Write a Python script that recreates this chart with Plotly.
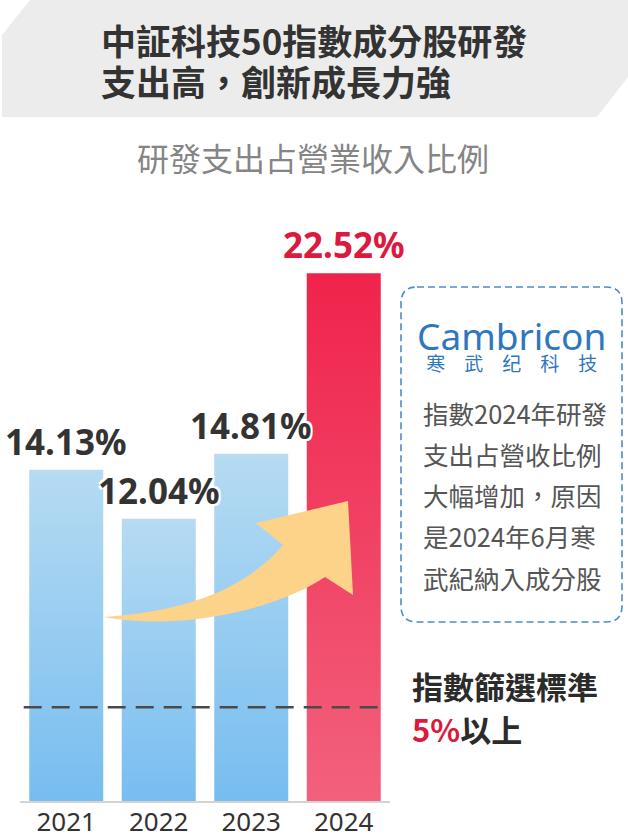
import plotly.graph_objects as go

# Data
years = ["2021", "2022", "2023", "2024"]
rd_ratio = [14.13, 12.04, 14.81, 22.52]
is_highlight = [False, False, False, True]
cutoff_label = "5%"
cutoff_drawn = 4.0  # the reference draws the cut-off guide at about this height

title_lines = ["中証科技50指數成分股研發", "支出高，創新成長力強"]
subtitle = "研發支出占營業收入比例"
note_lines = ["指數2024年研發", "支出占營收比例", "大幅增加，原因", "是2024年6月寒", "武紀納入成分股"]

# Page geometry (pixels) of the plotting area
W, H = 628, 838
L, R, T, B = 20, 390, 215, 801

CJK = "Noto Sans CJK TC"
LATIN = "Noto Sans"


def px(x, y):
    """pixel position on the page -> paper coordinates"""
    return (x - L) / (R - L), (B - y) / (B - T)


def path(points_cmds):
    out = []
    for cmd in points_cmds:
        if isinstance(cmd, str):
            out.append(cmd)
        else:
            a, b = px(*cmd)
            out.append(f"{a:.4f},{b:.4f}")
    return " ".join(out)


fig = go.Figure()
shapes = []
annotations = []

# =============================================================================
# Bars with vertical gradient
# =============================================================================
bar_w = 0.8
for i, (v, hl) in enumerate(zip(rd_ratio, is_highlight)):
    if hl:
        scale = [[0, "#f2617c"], [1, "#f0234b"]]
    else:
        scale = [[0, "#77bdf0"], [1, "#b6dbf2"]]
    fig.add_trace(go.Scatter(
        x=[i - bar_w / 2, i + bar_w / 2, i + bar_w / 2, i - bar_w / 2, i - bar_w / 2],
        y=[0, 0, v, v, 0],
        mode="lines",
        line=dict(width=0),
        fill="toself",
        fillgradient=dict(type="vertical", colorscale=scale),
        hoverinfo="skip",
        showlegend=False,
    ))

# value labels
for i, (v, hl) in enumerate(zip(rd_ratio, is_highlight)):
    annotations.append(dict(
        x=i, y=v, xref="x", yref="y",
        text=f"<b>{v:.2f}%</b>",
        showarrow=False, yanchor="bottom", yshift=3,
        font=dict(family=LATIN, size=35, color="#dc1a3e" if hl else "#333333",
                  shadow="2px 2px 0 #fff, -2px -2px 0 #fff, 2px -2px 0 #fff, -2px 2px 0 #fff"),
    ))

# =============================================================================
# Header band, title, subtitle
# =============================================================================
shapes.append(dict(
    type="path", xref="paper", yref="paper", layer="below",
    path=path(["M", (30, 0), "L", (628, 0), "L", (628, 77), "L", (597, 117),
               "L", (2, 117), "L", (2, 35), "Z"]),
    fillcolor="#ececec", line=dict(width=0),
))

# one annotation, base size sets the 41px line pitch, spans set the glyph size
ax, ay = px(99, 60)
annotations.append(dict(
    x=ax, y=ay, xref="paper", yref="paper", xanchor="left", yanchor="middle",
    align="left",
    text="<br>".join(f"<b><span style='font-size:35px'>{t}</span></b>" for t in title_lines),
    showarrow=False,
    font=dict(family=CJK, size=31.5, color="#333333"),
))

ax, ay = px(313, 157)
annotations.append(dict(
    x=ax, y=ay, xref="paper", yref="paper", xanchor="center", yanchor="middle",
    text=subtitle, showarrow=False,
    font=dict(family=CJK, size=32, color="#858585"),
))

# =============================================================================
# Curved arrow
# =============================================================================
shapes.append(dict(
    type="path", xref="paper", yref="paper", layer="above",
    path=path(["M", (103, 617),
               "C", (170, 613), (240, 596), (283, 545),
               "L", (256, 523), "L", (348, 501), "L", (353, 595), "L", (325, 577),
               "C", (282, 606), (190, 632), (103, 617), "Z"]),
    fillcolor="#fdd38a", line=dict(width=0),
))

# cut-off guide
shapes.append(dict(
    type="line", xref="x domain", yref="y", x0=0.01, x1=0.99,
    y0=cutoff_drawn, y1=cutoff_drawn,
    line=dict(color="#4a4a4a", width=2.5, dash="18px,10px"),
))

# =============================================================================
# Cambricon note box
# =============================================================================
r = 16
x0b, y0b, x1b, y1b = 401, 287, 622, 622
shapes.append(dict(
    type="path", xref="paper", yref="paper", layer="below",
    path=path(["M", (x0b + r, y0b), "L", (x1b - r, y0b), "Q", (x1b, y0b), (x1b, y0b + r),
               "L", (x1b, y1b - r), "Q", (x1b, y1b), (x1b - r, y1b),
               "L", (x0b + r, y1b), "Q", (x0b, y1b), (x0b, y1b - r),
               "L", (x0b, y0b + r), "Q", (x0b, y0b), (x0b + r, y0b), "Z"]),
    fillcolor="rgba(0,0,0,0)", line=dict(color="#4a8ccc", width=1.6, dash="7px,4px"),
))

ax, ay = px(511, 343)
annotations.append(dict(
    x=ax, y=ay, xref="paper", yref="paper", xanchor="center", yanchor="middle",
    text=("<span style='font-size:37px'>Cambricon</span><br>"
          "<span style='font-size:19px;font-family:\"Noto Sans CJK SC\"'>寒　武　纪　科　技</span>"),
    showarrow=False,
    font=dict(family=LATIN, size=16, color="#2f77bd"),
))

for k, line in enumerate(note_lines):
    ax, ay = px(421, 412 + 41.3 * k)
    annotations.append(dict(
        x=ax, y=ay, xref="paper", yref="paper", xanchor="left", yanchor="middle",
        text=line, showarrow=False,
        font=dict(family=CJK, size=25.5, color="#555555"),
    ))

# cut-off text
ax, ay = px(410, 685)
annotations.append(dict(
    x=ax, y=ay, xref="paper", yref="paper", xanchor="left", yanchor="middle",
    text="<b>指數篩選標準</b>", showarrow=False,
    font=dict(family=CJK, size=31, color="#2b2b2b"),
))
ax, ay = px(410, 728)
annotations.append(dict(
    x=ax, y=ay, xref="paper", yref="paper", xanchor="left", yanchor="middle",
    text=f"<b><span style='color:#dc1a3e'>{cutoff_label}</span>以上</b>", showarrow=False,
    font=dict(family=CJK, size=31, color="#2b2b2b"),
))

fig.update_layout(
    width=W, height=H,
    margin=dict(l=L, r=W - R, t=T, b=H - B),
    paper_bgcolor="white", plot_bgcolor="white",
    showlegend=False,
    shapes=shapes,
    annotations=annotations,
    xaxis=dict(
        range=[-0.5, 3.5], tickvals=list(range(len(years))), ticktext=years,
        showgrid=False, zeroline=False, showline=True, linecolor="#d4d4d4", linewidth=2,
        ticks="", tickfont=dict(family=LATIN, size=26, color="#333333"),
        ticklabelstandoff=-3,
        automargin=False, fixedrange=True,
    ),
    yaxis=dict(range=[0, 25], visible=False, fixedrange=True, automargin=False),
)

fig.write_html(
    "out.html",
    config={"displayModeBar": False},
    post_script="document.body.style.margin='0';document.body.style.overflow='hidden';",
)
